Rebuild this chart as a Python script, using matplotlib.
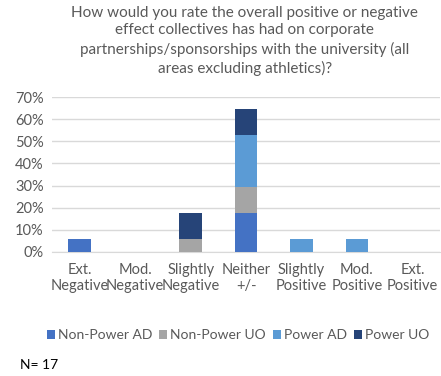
import numpy as np
import matplotlib.pyplot as plt
from matplotlib.ticker import PercentFormatter

plt.rcParams['font.family'] = ['Lato', 'DejaVu Sans']

categories = ['Ext.\nNegative', 'Mod.\nNegative', 'Slightly\nNegative', 'Neither\n+/-',
              'Slightly\nPositive', 'Mod.\nPositive', 'Ext.\nPositive']
n = 17
# counts per group, shown as share of all respondents
non_power_ad = np.array([1, 0, 0, 3, 0, 0, 0]) / n
non_power_uo = np.array([0, 0, 1, 2, 0, 0, 0]) / n
power_ad = np.array([0, 0, 0, 4, 1, 1, 0]) / n
power_uo = np.array([0, 0, 2, 2, 0, 0, 0]) / n

series = [('Non-Power AD', non_power_ad, '#4472C4'),
          ('Non-Power UO', non_power_uo, '#A5A5A5'),
          ('Power AD', power_ad, '#5B9BD5'),
          ('Power UO', power_uo, '#264478')]

fig = plt.figure(figsize=(4.41, 3.76), dpi=100)
ax = fig.add_axes([0.118, 0.33, 0.88, 0.412])

x = np.arange(len(categories))
bottom = np.zeros(len(categories))
for name, vals, col in series:
    ax.bar(x, vals, 0.41, bottom=bottom, color=col, label=name, zorder=3)
    bottom += vals

ax.set_xlim(-0.5, 6.5)
ax.set_ylim(0, 0.7)
ax.set_yticks(np.arange(0, 0.71, 0.1))
ax.yaxis.set_major_formatter(PercentFormatter(1.0, decimals=0))
ax.set_xticks(x)
ax.set_xticklabels(categories)
ax.grid(axis='y', color='#D9D9D9', linewidth=1, zorder=0)
for s in ax.spines.values():
    s.set_visible(False)
ax.spines['bottom'].set_visible(True)
ax.spines['bottom'].set_color('#D9D9D9')
ax.tick_params(length=0, labelsize=10.5, colors='#595959', pad=8)
ax.tick_params(axis='y', pad=6)

fig.text(0.555, 0.985,
         'How would you rate the overall positive or negative\n'
         'effect collectives has had on corporate\n'
         'partnerships/sponsorships with the university (all\n'
         'areas excluding athletics)?',
         ha='center', va='top', fontsize=11, color='#595959', linespacing=1.35)

fig.legend(loc='center', bbox_to_anchor=(0.54, 0.108), ncol=4, frameon=False,
           fontsize=10, handlelength=0.55, handleheight=0.55, handletextpad=0.25,
           columnspacing=0.5, labelcolor='#595959', borderpad=0, borderaxespad=0)

fig.text(0.045, 0.018, 'N= 17', fontsize=10, color='black')

fig.savefig('out.png', dpi=100)
